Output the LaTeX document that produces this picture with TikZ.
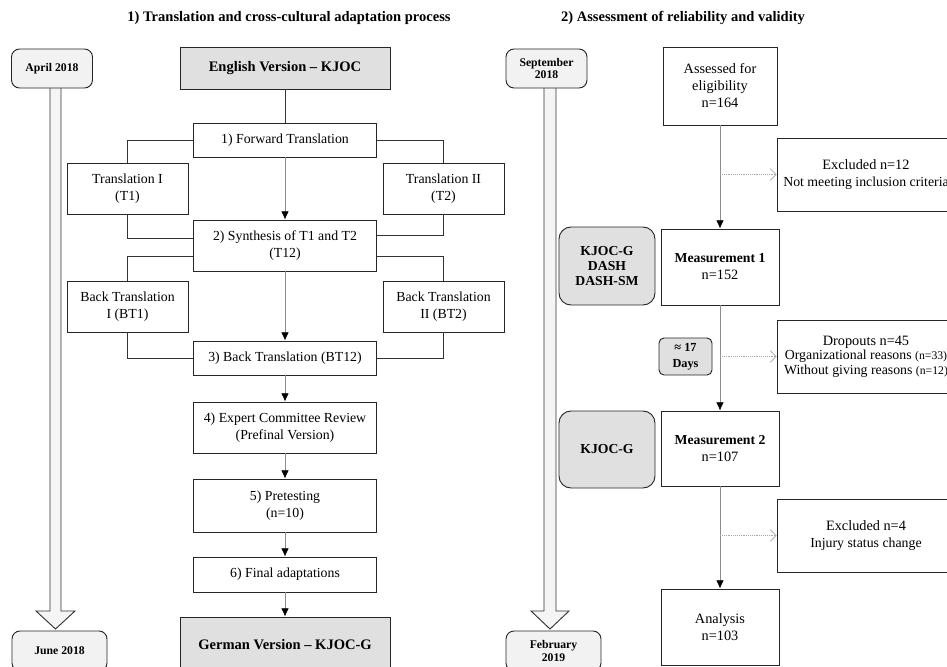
\documentclass[tikz,border=0pt]{standalone}
\usepackage{fontspec}
\setmainfont{Liberation Serif}
\usetikzlibrary{arrows.meta,calc}

\definecolor{boxgray}{RGB}{224,224,224}
\definecolor{dategray}{RGB}{242,242,242}

\begin{document}
\begin{tikzpicture}[x=0.03cm,y=-0.03cm,
  box/.style={draw=black!85,line width=0.8pt,inner sep=0pt,align=center,font=\fontsize{11.8}{14.5}\selectfont},
  stage/.style={box,minimum width=5.5cm},
  branch/.style={box,minimum width=3.63cm,minimum height=1.53cm},
  version/.style={box,fill=boxgray,minimum width=6.3cm,font=\fontsize{12.4}{15}\selectfont\bfseries},
  count/.style={box,minimum width=3.54cm,minimum height=2.28cm,font=\fontsize{12.2}{14.5}\selectfont},
  note/.style={box,minimum width=5.34cm,minimum height=2.19cm,font=\fontsize{11.8}{14}\selectfont},
  tool/.style={box,rounded corners=0.36cm,fill=boxgray,minimum width=2.88cm,minimum height=2.34cm,font=\fontsize{11.7}{13.2}\selectfont\bfseries},
  date/.style={box,rounded corners=0.24cm,fill=dategray,minimum width=2.43cm,minimum height=1.17cm,font=\fontsize{10}{11}\selectfont\bfseries},
  title/.style={font=\fontsize{12.4}{15}\selectfont\bfseries},
  link/.style={draw=black!80,line width=0.8pt},
  flow/.style={draw=black!45,line width=0.6pt,-{Latex[black,length=7pt,width=6.5pt]}},
  side/.style={draw=black!35,line width=0.6pt,densely dotted,-{Straight Barb[length=5pt,width=10pt]}},
  timeline/.style={draw=black!80,line width=0.8pt,fill=black!4}]
\useasboundingbox (0,0) rectangle (947,666);
\clip (0,0) rectangle (947,666);

\node[title] (head1) at (289,18) {1) Translation and cross-cultural adaptation process};
\node[title] (head2) at (683,18) {2) Assessment of reliability and validity};

%\draw [help lines,step=50] (0,0) grid (947,666);
\draw[timeline] (50,88) -- (50,611) -- (36,611) -- (55.5,629) -- (75,611) -- (61,611) -- (61,88);
\draw[timeline] (544,88) -- (544,611) -- (531,611) -- (550,629) -- (569,611) -- (556,611) -- (556,88);
\node[date] (april) at (52,68.5) {April 2018};
\node[date,minimum width=2.85cm,minimum height=1.2cm] (june) at (59.5,651) {June 2018};
\node[date] (sept) at (546.5,68.5) {September\\2018};
\node[date,minimum width=2.85cm,minimum height=1.2cm] (feb) at (553.5,651) {February\\2019};

\node[version,minimum height=1.26cm] (eng) at (285,68) {English Version \textendash{} KJOC};
\node[stage,minimum height=1.02cm] (fwd) at (285,140) {1) Forward Translation};
\node[branch] (t1) at (127.5,188.5) {Translation I\\(T1)};
\node[branch] (t2) at (443.5,188.5) {Translation II\\(T2)};
\node[stage,minimum height=1.53cm] (syn) at (285,245.5) {2) Synthesis of T1 and T2\\(T12)};
\node[branch] (bt1) at (127.5,306.5) {Back Translation\\I (BT1)};
\node[branch] (bt2) at (443.5,306.5) {Back Translation\\II (BT2)};
\node[stage,minimum height=1.02cm] (bt12) at (285,358) {3) Back Translation (BT12)};
\node[stage,minimum height=1.53cm] (exp) at (285,427.5) {4) Expert Committee Review\\(Prefinal Version)};
\node[stage,minimum height=1.59cm] (pre) at (285,505.5) {5) Pretesting\\(n=10)};
\node[stage,minimum height=1.05cm] (fin) at (285,574.5) {6) Final adaptations};
\node[version,minimum height=1.65cm] (ger) at (285,644.5) {German Version \textendash{} KJOC-G};

\draw[link] (eng) -- (fwd);
\draw[link] (fwd.west) -| (t1.north);
\draw[link] (fwd.east) -| (t2.north);
\draw[link] (t1.south) |- ($(syn.west)+(0,-7.5)$);
\draw[link] (t2.south) |- ($(syn.east)+(0,-10.5)$);
\draw[link] ($(syn.west)+(0,10.5)$) -| (bt1.north);
\draw[link] ($(syn.east)+(0,10.5)$) -| (bt2.north);
\draw[link] (bt1.south) |- (bt12.west);
\draw[link] (bt2.south) |- (bt12.east);
\draw[flow] (fwd) -- (syn);
\draw[flow] (syn) -- (bt12);
\draw[flow] (bt12) -- (exp);
\draw[flow] (exp) -- (pre);
\draw[flow] (pre) -- (fin);
\draw[flow] (fin) -- (ger);

\node[count,minimum width=3.42cm,minimum height=2.34cm] (ass) at (720,86) {Assessed for\\eligibility\\n=164};
\node[count] (m1) at (720,267) {\textbf{\fontsize{11.7}{14}\selectfont Measurement 1}\\n=152};
\node[count,minimum height=2.25cm] (m2) at (720,448.5) {\textbf{\fontsize{11.7}{14}\selectfont Measurement 2}\\n=107};
\node[count] (ana) at (720,627) {Analysis\\n=103};
\node[tool] (kd1) at (607,266) {KJOC-G\\DASH\\DASH-SM};
\node[tool,minimum height=2.31cm] (kd2) at (607,449.5) {KJOC-G};
\node[tool,rounded corners=0.15cm,minimum width=1.59cm,minimum height=1.11cm,font=\fontsize{10.5}{13.5}\selectfont\bfseries] (days) at (685.5,356.5) {≈ 17\\Days};
\node[note] (exc1) at (866,174.5) {{\fontsize{12.2}{14.5}\selectfont Excluded n=12}\\Not meeting inclusion criteria};
\node[note,font=\fontsize{11.8}{12.5}\selectfont] (drop) at (866,356.5) {{\fontsize{12.2}{14.5}\selectfont Dropouts n=45}\\Organizational reasons {\fontsize{10}{11}\selectfont(n=33)}\\Without giving reasons {\fontsize{10}{11}\selectfont(n=12)}};
\node[note] (exc2) at (866,535.5) {{\fontsize{12.2}{14.5}\selectfont Excluded n=4}\\Injury status change};

\draw[flow] (ass) -- (m1);
\draw[flow] (m1) -- (m2);
\draw[flow] (m2) -- (ana);
\draw[side] (ass.south |- exc1.west) -- (exc1.west);
\draw[side] (m1.south |- drop.west) -- (drop.west);
\draw[side] (m2.south |- exc2.west) -- (exc2.west);
\end{tikzpicture}
\end{document}
